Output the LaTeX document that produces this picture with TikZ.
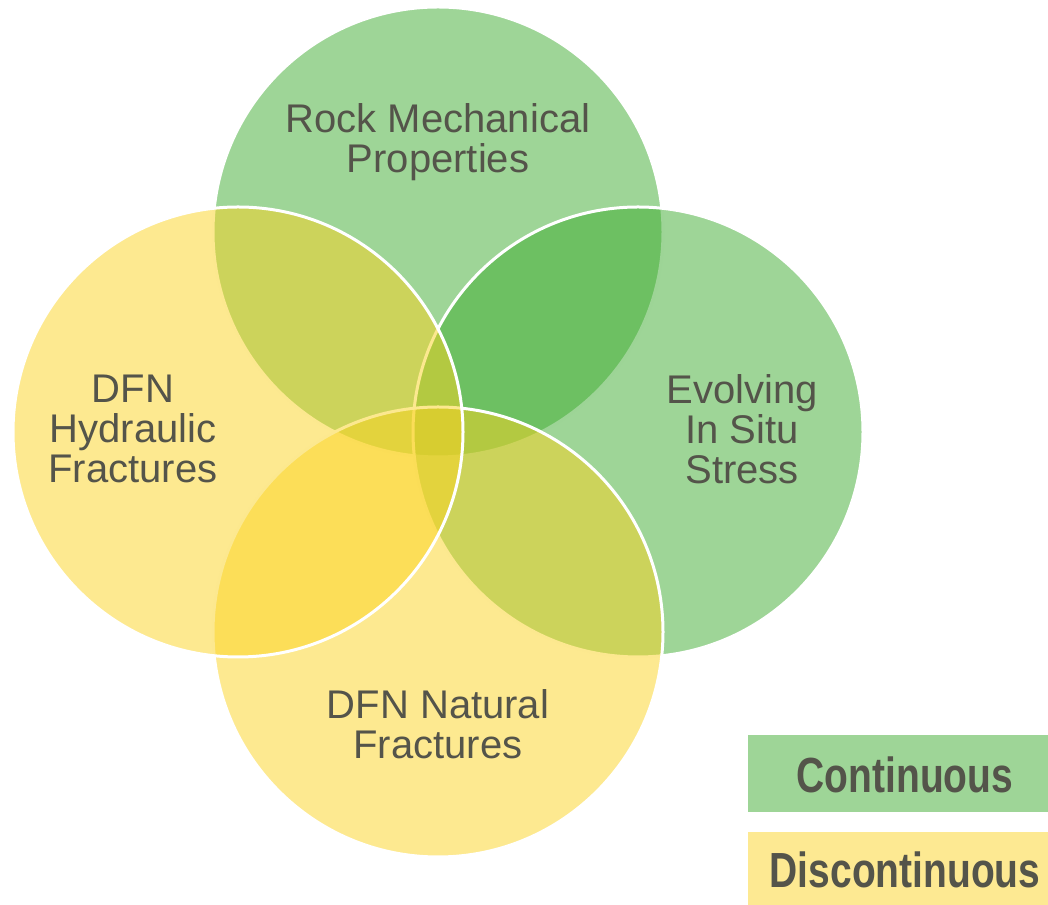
\documentclass[tikz,border=0pt]{standalone}
\usepackage{fontspec}
\setmainfont{Liberation Sans}
\newfontfamily\narrowfont[FakeStretch=0.79]{Liberation Sans}
\usepackage{tikz}

\definecolor{vgreen}{RGB}{61,171,47}
\definecolor{vyellow}{RGB}{251,211,33}
\definecolor{vtext}{RGB}{84,84,74}
\definecolor{boxgreen}{RGB}{158,213,151}
\definecolor{boxyellow}{RGB}{253,233,146}

\begin{document}
\begin{tikzpicture}[x=0.75pt, y=0.75pt,
  venn/.style={circle, minimum size=337.5pt, inner sep=0pt, draw=white, line width=2.25pt, fill opacity=0.5},
  venntext/.style={text=vtext, align=center, font=\fontsize{30}{30}\selectfont},
  legendbox/.style={rectangle, anchor=north west, minimum width=240pt, inner sep=0pt},
  legendtext/.style={text=vtext, anchor=base, font=\narrowfont\bfseries\fontsize{37}{37}\selectfont}]
  \useasboundingbox (0,0) rectangle (1048,905);
  % Circles (drawn top, right, bottom, left)
  \node[venn, fill=vgreen] (rock) at (438,673) {};
  \node[venn, fill=vgreen] (stress) at (638,473) {};
  \node[venn, fill=vyellow] (natural) at (438,273) {};
  \node[venn, fill=vyellow] (hydraulic) at (238,473) {};
  % Circle labels
  \node[venntext] (rocktext) at (438,763) {Rock Mechanical\\Properties};
  \node[venntext] (stresstext) at (742,476) {Evolving\\In Situ\\Stress};
  \node[venntext] (naturaltext) at (438,181) {DFN Natural\\Fractures};
  \node[venntext] (hydraulictext) at (133,476) {DFN\\Hydraulic\\Fractures};
  % Legend
  \node[legendbox, fill=boxgreen, minimum height=57.75pt] (contbox) at (748,170) {};
  \node[legendbox, fill=boxyellow, minimum height=67.5pt] (discbox) at (748,73) {};
  \node[legendtext] (conttext) at (905,112) {Continuous};
  \node[legendtext] (disctext) at (905,17) {Discontinuous};
\end{tikzpicture}
\end{document}
